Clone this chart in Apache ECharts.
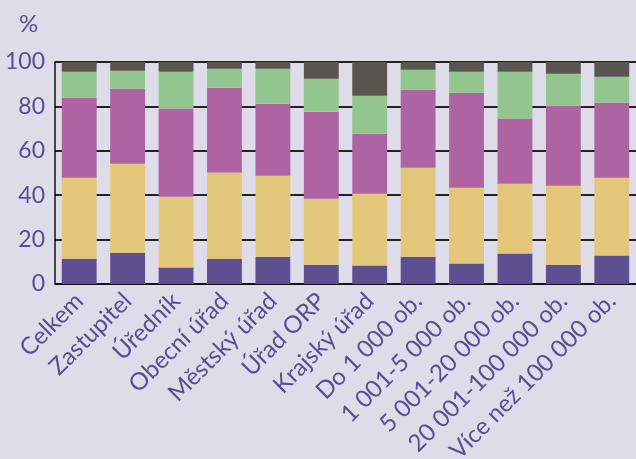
<!DOCTYPE html>
<html><head><meta charset="utf-8">
<script src="https://cdn.jsdelivr.net/npm/echarts@6/dist/echarts.min.js"></script>
<style>html,body{margin:0;padding:0;background:#dfdcea;}#c{width:636px;height:459px;}</style>
</head><body><div id="c"></div>
<script>
const categories = ["Celkem","Zastupitel","Úředník","Obecní úřad","Městský úřad","Úřad ORP","Krajský úřad","Do 1 000 ob.","1 001-5 000 ob.","5 001-20 000 ob.","20 001-100 000 ob.","Více než 100 000 ob."];
const s1 = [11.4,14.1,7.4,11.4,12.3,8.7,8.3,12.3,9.2,13.7,8.7,12.8];
const s2 = [36.5,40.1,31.9,38.8,36.5,29.7,32.4,40.1,34.2,31.5,35.6,35.1];
const s3 = [36.0,33.8,39.7,38.2,32.4,39.2,27.0,35.1,42.8,29.3,36.0,33.8];
const s4 = [11.7,8.1,16.6,8.6,15.8,14.9,17.1,9.0,9.4,21.1,14.4,11.7];
const s5 = [4.4,3.9,4.4,3.0,3.0,7.5,15.2,3.5,4.4,4.4,5.3,6.6];
const yTicks = [0,20,40,60,80,100];
const colors = ["#5d5090","#e2c77b","#ae63a3","#92c68e","#5a554f"];
const font = "Lato";
const chart = echarts.init(document.getElementById('c'));
const mk = (d,i)=>({type:'bar',stack:'a',data:d,barCategoryGap:'28%',itemStyle:{color:colors[i]},animation:false});
chart.setOption({
  backgroundColor:'#dfdcea',
  animation:false,
  grid:{left:55,right:0,top:62,bottom:175,outerBoundsMode:'none',containLabel:false},
  graphic:[{type:'text',left:19,top:12,style:{text:'%',fill:'#5a4e90',font:'24px '+font}}],
  xAxis:{type:'category',data:categories,
    axisLine:{lineStyle:{color:'#111',width:1.5}},
    axisTick:{inside:true,length:5,lineStyle:{color:'#111',width:1.5}},
    axisLabel:{rotate:45,color:'#5a4e90',fontFamily:font,fontSize:24,margin:13,interval:0}},
  yAxis:{type:'value',min:0,max:100,interval:20,
    axisLine:{show:true,lineStyle:{color:'#111',width:1.5}},
    axisTick:{show:false},
    splitLine:{lineStyle:{color:'#222',width:2}},
    axisLabel:{color:'#5a4e90',fontFamily:font,fontSize:23,margin:10,
      formatter:v=>yTicks.includes(v)?String(v):''}},
  series:[mk(s1,0),mk(s2,1),mk(s3,2),mk(s4,3),mk(s5,4)]
});
</script></body></html>
